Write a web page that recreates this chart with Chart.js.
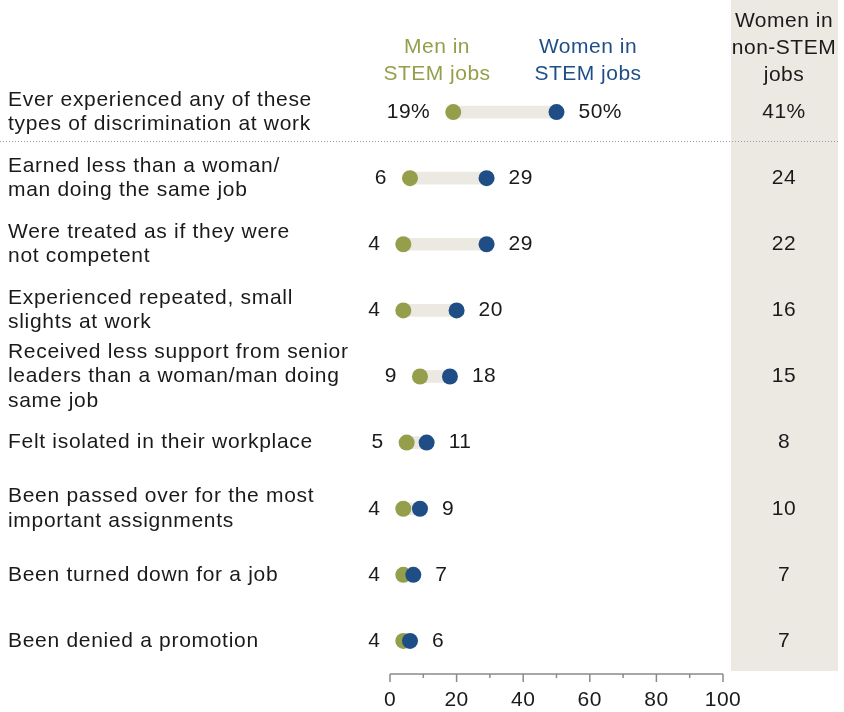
<!DOCTYPE html>
<html>
<head>
<meta charset="utf-8">
<script src="https://cdn.jsdelivr.net/npm/chart.js@4.4.0/dist/chart.umd.min.js"></script>
<style>
	html, body { margin: 0; padding: 0; background: #fff; }
</style>
</head>
<body>
<canvas id="myChart" width="844" height="712"></canvas>
<script>
// Datos
const rowLabels = [
	['Ever experienced any of these', 'types of discrimination at work'],
	['Earned less than a woman/', 'man doing the same job'],
	['Were treated as if they were', 'not competent'],
	['Experienced repeated, small', 'slights at work'],
	['Received less support from senior', 'leaders than a woman/man doing', 'same job'],
	['Felt isolated in their workplace'],
	['Been passed over for the most', 'important assignments'],
	['Been turned down for a job'],
	['Been denied a promotion']
];
const menStem = [19, 6, 4, 4, 9, 5, 4, 4, 4];
const womenStem = [50, 29, 29, 20, 18, 11, 9, 7, 6];
const womenNonStem = [41, 24, 22, 16, 15, 8, 10, 7, 7];
const xTicks = [0, 10, 20, 30, 40, 50, 60, 70, 80, 90, 100];

const OLIVE = '#959E4B';
const NAVY = '#1F4E86';
const BEIGE = '#ECE9E2';
const INK = '#1a1a1a';
const FONT = '21px "Liberation Sans", Arial, sans-serif';

const labels = rowLabels.map(l => l.join(' '));

// Fondo, columna sombreada y linea punteada
const decorPlugin = {
	id: 'decor',
	beforeDraw(chart) {
		const ctx = chart.ctx;
		ctx.save();
		ctx.fillStyle = '#fff';
		ctx.fillRect(0, 0, chart.width, chart.height);
		ctx.fillStyle = BEIGE;
		ctx.fillRect(731, 0, 107, 671);
		ctx.strokeStyle = '#9a9a9a';
		ctx.lineWidth = 1;
		ctx.setLineDash([1, 2]);
		ctx.beginPath();
		ctx.moveTo(0, 141.5);
		ctx.lineTo(838, 141.5);
		ctx.stroke();
		ctx.restore();
	},
	afterDraw(chart) {
		const ctx = chart.ctx;
		const x = chart.scales.x;
		const y = chart.scales.y;
		ctx.save();
		ctx.textBaseline = 'middle';
		ctx.font = FONT;
		ctx.letterSpacing = '0.5px';

		// Encabezados
		ctx.textAlign = 'center';
		ctx.fillStyle = OLIVE;
		ctx.fillText('Men in', 437, 47);
		ctx.fillText('STEM jobs', 437, 74);
		ctx.fillStyle = NAVY;
		ctx.fillText('Women in', 588, 47);
		ctx.fillText('STEM jobs', 588, 74);
		ctx.fillStyle = INK;
		ctx.fillText('Women in', 784, 21);
		ctx.fillText('non-STEM', 784, 48);
		ctx.fillText('jobs', 784, 75);

		// Etiquetas de filas y valores
		rowLabels.forEach(function (lines, i) {
			const cy = y.getPixelForValue(i);
			const lh = 24.5;
			ctx.fillStyle = INK;
			ctx.letterSpacing = '0.7px';
			ctx.textAlign = 'left';
			lines.forEach(function (t, k) {
				ctx.fillText(t, 8, cy + (k - (lines.length - 1) / 2) * lh);
			});
			ctx.letterSpacing = '0.5px';
			const suf = i === 0 ? '%' : '';
			ctx.textAlign = 'right';
			ctx.fillText(menStem[i] + suf, x.getPixelForValue(menStem[i]) - 23, cy);
			ctx.textAlign = 'left';
			ctx.fillText(womenStem[i] + suf, x.getPixelForValue(womenStem[i]) + 22, cy);
			ctx.textAlign = 'center';
			ctx.fillText(womenNonStem[i] + suf, 784, cy);
		});

		// Eje x
		const base = chart.chartArea.bottom;
		ctx.strokeStyle = '#8a8a8a';
		ctx.lineWidth = 1.5;
		ctx.beginPath();
		ctx.moveTo(x.getPixelForValue(0), base);
		ctx.lineTo(x.getPixelForValue(100), base);
		xTicks.forEach(function (t) {
			const px = x.getPixelForValue(t);
			ctx.moveTo(px, base);
			ctx.lineTo(px, base + (t % 20 === 0 ? 8 : 4));
		});
		ctx.stroke();
		ctx.fillStyle = INK;
		ctx.textAlign = 'center';
		xTicks.filter(t => t % 20 === 0).forEach(function (t) {
			ctx.fillText(String(t), x.getPixelForValue(t), 700);
		});
		ctx.restore();
	}
};

const ctx = document.getElementById('myChart').getContext('2d');
const chart = new Chart(ctx, {
	type: 'bar',
	data: {
		labels: labels,
		datasets: [{
			label: 'gap',
			data: menStem.map((m, i) => [m, womenStem[i]]),
			backgroundColor: BEIGE,
			barThickness: 12,
			borderWidth: 0,
			order: 3
		},
		{
			type: 'line',
			label: 'Men in STEM jobs',
			data: menStem.map((v, i) => ({ x: v, y: labels[i] })),
			showLine: false,
			pointRadius: 8,
			pointHoverRadius: 8,
			pointBorderWidth: 0,
			pointBackgroundColor: OLIVE,
			order: 2
		},
		{
			type: 'line',
			label: 'Women in STEM jobs',
			data: womenStem.map((v, i) => ({ x: v, y: labels[i] })),
			showLine: false,
			pointRadius: 8,
			pointHoverRadius: 8,
			pointBorderWidth: 0,
			pointBackgroundColor: NAVY,
			order: 1
		}]
	},
	options: {
		indexAxis: 'y',
		responsive: false,
		animation: false,
		devicePixelRatio: 1,
		layout: {
			padding: { left: 390, right: 121, top: 79, bottom: 38 }
		},
		plugins: {
			legend: { display: false },
			tooltip: { enabled: false },
			title: { display: false }
		},
		scales: {
			x: { type: 'linear', min: 0, max: 100, display: false },
			y: { type: 'category', offset: true, display: false }
		}
	},
	plugins: [decorPlugin]
});
</script>
</body>
</html>
